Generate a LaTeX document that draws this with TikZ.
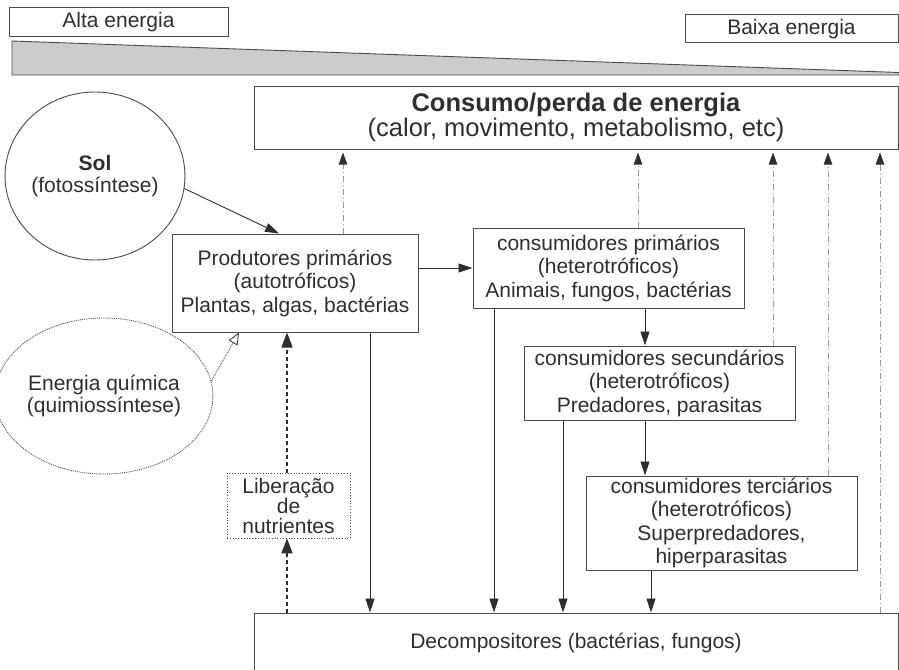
\documentclass[tikz,border=0pt]{standalone}
\usepackage{fontspec}
\setmainfont{Liberation Sans}
\usetikzlibrary{arrows.meta,shapes.geometric,calc}
\definecolor{ink}{HTML}{2E2E2E}
\definecolor{edge}{HTML}{4A4A4A}
\definecolor{wedge}{HTML}{CCCCCC}
\begin{document}
\begin{tikzpicture}[x=1pt,y=-1pt,
  box/.style={draw=edge, line width=1pt, text=ink, align=center, inner sep=0pt,
    font=\fontsize{21}{23.5}\selectfont},
  dotbox/.style={box, draw=edge, line width=0.8pt, dotted},
  arr/.style={draw=ink, line width=0.9pt, -{Triangle[length=14pt,width=9pt]}},
  nutr/.style={draw=ink, line width=1.6pt, dash pattern=on 4pt off 3pt, -{Triangle[length=15pt,width=11pt]}},
  chem/.style={draw=ink, line width=0.8pt, densely dotted, -{Triangle[open,length=12pt,width=10pt,line width=0.8pt]}},
  loss/.style={draw=gray!80, line width=0.6pt, dash pattern=on 6pt off 3pt on 1pt off 3pt,
    shorten >=3pt, -{Triangle[length=12pt,width=8.5pt,color=ink,fill=ink]}}
]
\useasboundingbox (0,0) rectangle (899,669);

% energy gradient
\node[box, minimum width=219pt, minimum height=29pt] (alta) at (118.5,22.5) {Alta energia};
\node[box, minimum width=213pt, minimum height=28pt] (baixa) at (791.5,29) {Baixa energia};
\draw[draw=edge, fill=wedge, line width=0.9pt] (12,41) -- (899,72.5) -- (899,75) -- (12,75) -- cycle;

% consumption box
\node[box, minimum width=644pt, minimum height=63pt, font=\fontsize{25.5}{24.5}\selectfont]
  (cons) at (576,117.5) {\textbf{Consumo/perda de energia}\\(calor, movimento, metabolismo, etc)};

% sources
\node[box, ellipse, minimum width=176pt, minimum height=168pt, line width=0.9pt,
  font=\fontsize{21}{22}\selectfont] (sol) at (95,176) {\textbf{Sol}\\(fotossíntese)};
\node[box, ellipse, minimum width=176pt, minimum height=156pt, line width=0.9pt, densely dotted,
  font=\fontsize{21}{22}\selectfont] (qui) at (104,396) {Energia química\\(quimiossíntese)};

% trophic levels
\node[box, minimum width=246pt, minimum height=98pt] (prod) at (295,283)
  {Produtores primários\\(autotróficos)\\Plantas, algas, bactérias};
\node[box, minimum width=271pt, minimum height=80pt] (prim) at (608.5,268)
  {consumidores primários\\(heterotróficos)\\Animais, fungos, bactérias};
\node[box, minimum width=271pt, minimum height=74pt] (sec) at (659.5,383)
  {consumidores secundários\\(heterotróficos)\\Predadores, parasitas};
\node[box, minimum width=271pt, minimum height=94pt] (terc) at (721.5,523)
  {consumidores terciários\\(heterotróficos)\\Superpredadores,\\hiperparasitas};
\node[dotbox, minimum width=123pt, minimum height=65pt, font=\fontsize{21}{20}\selectfont]
  (lib) at (288.5,505.5) {Liberação\\de\\nutrientes};
\node[box, minimum width=644pt, minimum height=60pt] (dec) at (576,643)
  {Decompositores (bactérias, fungos)};

% x positions of vertical connectors
\coordinate (x239) at (239,0);
\coordinate (x279) at (279,0);
\coordinate (x287) at (287,0);
\coordinate (x343) at (343,0);
\coordinate (x370) at (370,0);
\coordinate (x494) at (494,0);
\coordinate (x563) at (563,0);
\coordinate (x638) at (638,0);
\coordinate (x645) at (645,0);
\coordinate (x651) at (651,0);
\coordinate (x773) at (773,0);
\coordinate (x828) at (828,0);
\coordinate (x880) at (880,0);

% energy input
\draw[arr] (sol.-8) -- (prod.north -| x279);
\draw[chem] (qui.8) -- (prod.south -| x239);

% food chain
\draw[arr] (prod.east |- prim.west) -- (prim.west);
\draw[arr] (prim.south -| x645) -- (sec.north -| x645);
\draw[arr] (sec.south -| x645) -- (terc.north -| x645);

% to decomposers
\draw[arr] (prod.south -| x370) -- (dec.north -| x370);
\draw[arr] (prim.south -| x494) -- (dec.north -| x494);
\draw[arr] (sec.south -| x563) -- (dec.north -| x563);
\draw[arr] (terc.south -| x651) -- (dec.north -| x651);

% nutrient recycling
\draw[nutr] (dec.north -| x287) -- (lib.south -| x287);
\draw[nutr] (lib.north -| x287) -- (prod.south -| x287);

% energy loss
\draw[loss] (prod.north -| x343) -- (cons.south -| x343);
\draw[loss] (prim.north -| x638) -- (cons.south -| x638);
\draw[loss] (sec.north -| x773) -- (cons.south -| x773);
\draw[loss] (terc.north -| x828) -- (cons.south -| x828);
\draw[loss] (dec.north -| x880) -- (cons.south -| x880);
\end{tikzpicture}
\end{document}
